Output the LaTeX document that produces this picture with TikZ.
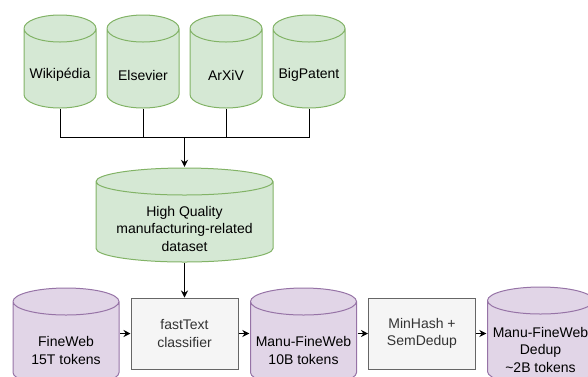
\documentclass[tikz,border=0pt]{standalone}
\usepackage{fontspec}
\setmainfont{Liberation Sans}
\usepackage{tikz}
\usetikzlibrary{arrows.meta}
\usetikzlibrary{calc}

\definecolor{dbgreen}{HTML}{D5E8D4}
\definecolor{dbgreenline}{HTML}{82B366}
\definecolor{dbpurple}{HTML}{E1D5E7}
\definecolor{dbpurpleline}{HTML}{9673A6}
\definecolor{procfill}{HTML}{F5F5F5}
\definecolor{procline}{HTML}{666666}
\definecolor{proctext}{HTML}{333333}

\tikzset{
    >={Stealth[length=7pt,width=7pt]},
    txt/.style={font=\fontsize{14}{17.5}\selectfont, align=center},
    link/.style={line width=1pt, draw=black},
    db/.style n args={4}{
        minimum width=#1, minimum height=#2, inner sep=0pt,
        path picture={
            \filldraw[fill=#3, draw=#4, line width=1pt]
                let \p1=(path picture bounding box.north west),
                    \p2=(path picture bounding box.south east),
                    \n1={(\x2-\x1)/2-1} in
                (\x1+1pt,\y1-14.5pt) -- (\x1+1pt,\y2+14.5pt)
                arc[start angle=180, end angle=360, x radius=\n1, y radius=13.5pt]
                -- (\x2-1pt,\y1-14.5pt)
                arc[start angle=0, end angle=180, x radius=\n1, y radius=13.5pt]
                -- cycle
                (\x1+1pt,\y1-14.5pt)
                arc[start angle=180, end angle=360, x radius=\n1, y radius=13.5pt];
        }},
    proc/.style={draw=procline, fill=procfill, line width=1pt, text=proctext,
        minimum width=107pt, minimum height=71pt, inner sep=0pt, txt}
}

\begin{document}
\begin{tikzpicture}[x=1pt, y=-1pt]
    \useasboundingbox (0,0) rectangle (588,376);

    % sources
    \node[db={74pt}{95pt}{dbgreen}{dbgreenline}, label={[txt, yshift=-13.5pt]center:Wikipédia}] (wiki) at (60,61.5) {};
    \node[db={74pt}{95pt}{dbgreen}{dbgreenline}, label={[txt, yshift=-13.5pt]center:Elsevier}] (elsevier) at (143,61.5) {};
    \node[db={74pt}{95pt}{dbgreen}{dbgreenline}, label={[txt, yshift=-13.5pt]center:ArXiV}] (arxiv) at (226,61.5) {};
    \node[db={74pt}{95pt}{dbgreen}{dbgreenline}, label={[txt, yshift=-13.5pt]center:BigPatent}] (bigpatent) at (309,61.5) {};

    \node[db={179pt}{96pt}{dbgreen}{dbgreenline}, label={[txt, yshift=-13.5pt]center:{High Quality\\manufacturing-related\\dataset}}] (hq) at (184.5,215) {};

    % pipeline
    \node[db={108pt}{100pt}{dbpurple}{dbpurpleline}, label={[txt, yshift=-13.5pt]center:{FineWeb\\15T tokens}}] (fineweb) at (66,337) {};
    \node[proc] (fasttext) at (184.5,333.5) {fastText\\classifier};
    \node[db={108pt}{100pt}{dbpurple}{dbpurpleline}, label={[txt, yshift=-13.5pt]center:{Manu-FineWeb\\10B tokens}}] (manu) at (303.5,337) {};
    \node[proc] (minhash) at (422,333.5) {MinHash +\\SemDedup};
    \node[db={108pt}{100pt}{dbpurple}{dbpurpleline}, label={[txt, yshift=-13.5pt]center:{Manu-FineWeb\\Dedup\\\textasciitilde2B tokens}}] (dedup) at (540.5,336) {};

    \coordinate (bus) at (184.5,137);
    \foreach \src in {wiki,elsevier,arxiv,bigpatent}
        \draw[link] (\src.south) |- (bus);
    \draw[link,->] (bus) -- (hq.north);
    \draw[link,->] (hq.south) -- (fasttext.north);
    \draw[link,->] (fineweb.east |- fasttext.west) -- (fasttext.west);
    \draw[link,->] (fasttext.east) -- (manu.west |- fasttext.east);
    \draw[link,->] (manu.east |- minhash.west) -- (minhash.west);
    \draw[link,->] (minhash.east) -- (dedup.west |- minhash.east);

\end{tikzpicture}
\end{document}
